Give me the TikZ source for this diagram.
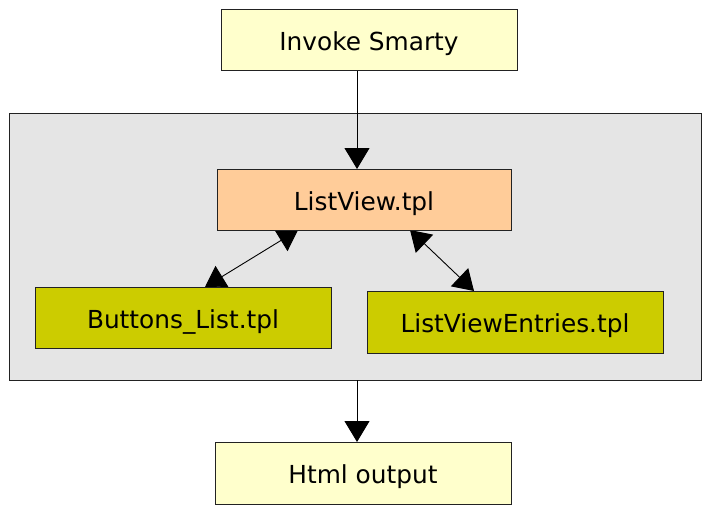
\documentclass[tikz,border=0pt]{standalone}
\usepackage{fontspec}
\setmainfont{DejaVu Sans}
\usetikzlibrary{arrows.meta}
\pgfdeclarelayer{bg}
\pgfdeclarelayer{mid}
\pgfsetlayers{bg,mid,main}
\definecolor{paleyellow}{HTML}{FFFFCC}
\definecolor{peach}{HTML}{FFCC99}
\definecolor{olive}{HTML}{CCCC00}
\definecolor{groupgray}{HTML}{E5E5E5}
\definecolor{edge}{HTML}{222222}
\tikzset{
  box/.style={draw=edge, line width=1pt, inner sep=0pt, outer sep=0pt,
    minimum width=296pt, minimum height=61pt, text height=21pt, text depth=0pt,
    font=\fontsize{24.8pt}{30pt}\selectfont},
  startbox/.style={box, fill=paleyellow},
  mainbox/.style={box, fill=peach, minimum width=294pt},
  subbox/.style={box, fill=olive},
  groupbox/.style={draw=edge, line width=1pt, fill=groupgray, inner sep=0pt,
    outer sep=0pt, minimum width=692pt, minimum height=267pt},
  flow/.style={line width=0.9pt, -{Triangle[length=21pt,width=25pt]}},
  both/.style={line width=0.9pt, {Triangle[length=20pt,width=25pt]}-{Triangle[length=20pt,width=25pt]}}
}
\begin{document}
\begin{tikzpicture}[x=1pt,y=-1pt]
\useasboundingbox (0,0) rectangle (703,506);
\begin{pgfonlayer}{bg}
  \fill[white] (0,0) rectangle (703,506);
  \node[groupbox] (grp) at (355,246.5) {};
\end{pgfonlayer}
\node[startbox] (inv) at (369,39.5) {Invoke Smarty};
\node[mainbox] (lv) at (364,199.5) {ListView.tpl};
\node[subbox] (bl) at (183,317.5) {Buttons\_List.tpl};
\node[subbox, minimum height=62pt] (lve) at (515,322) {ListViewEntries.tpl};
\node[startbox, minimum height=62pt] (html) at (363,473) {Html output};
\begin{pgfonlayer}{mid}
  \draw[flow] ([xshift=-12pt]inv.south) -- ([xshift=-7pt]lv.north);
  \draw[both] ([xshift=-66pt]lv.south) -- ([xshift=22pt]bl.north);
  \draw[both] ([xshift=46pt]lv.south) -- ([xshift=-41pt]lve.north);
  \draw[flow] ([xshift=2pt]grp.south) -- ([xshift=-6pt]html.north);
\end{pgfonlayer}
\end{tikzpicture}
\end{document}
